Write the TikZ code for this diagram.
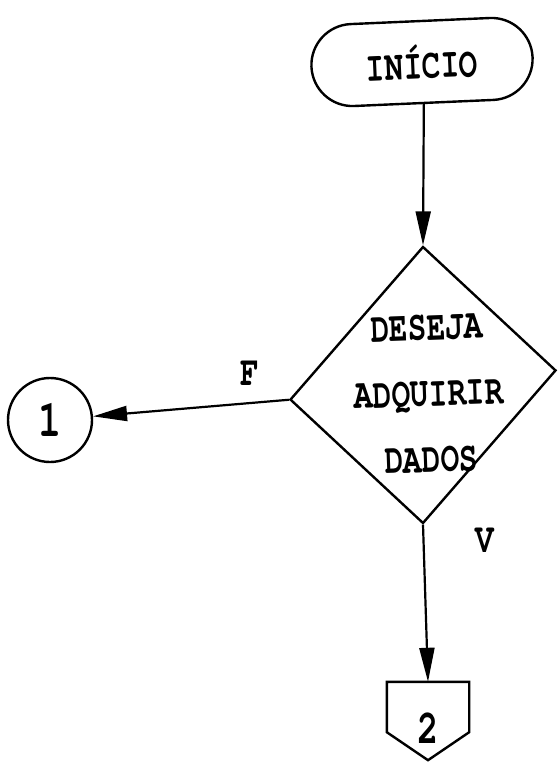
\documentclass[tikz,border=0pt]{standalone}
\usepackage{fontspec}
\newfontfamily\typewriter[FakeStretch=0.74]{texgyrecursor-bold.otf}
\usetikzlibrary{shapes.geometric,shapes.misc,arrows.meta}

\begin{document}
\begin{tikzpicture}[x=1pt,y=-1pt,
  every node/.style={font=\typewriter\fontsize{42}{48}\selectfont},
  outline/.style={draw, line width=2.4pt},
  flowline/.style={line width=2.2pt, -{Triangle[length=34pt,width=15pt]}},
]
\useasboundingbox (0,0) rectangle (558,763);

% start terminal
\node[outline, rounded rectangle, minimum width=228pt, minimum height=82pt,
      rotate=2.5] (term) at (422,62) {INÍCIO};

% decision
\node[outline, diamond, minimum width=266pt, minimum height=277pt,
      inner sep=0pt, yslant=0.11] (dec) at (423,385) {};
\node[align=center, rotate=2, font=\typewriter\fontsize{42}{66}\selectfont]
      (dectxt) at (429,394) {DESEJA\\ADQUIRIR\\DADOS};

% on-page connector
\node[outline, circle, minimum size=84pt, inner sep=0pt,
      font=\typewriter\fontsize{52}{58}\selectfont] (c1) at (50,420) {1};

% off-page connector
\node[minimum width=82pt, minimum height=50pt, inner sep=0pt] (c2) at (428,707) {};
\node[font=\typewriter\fontsize{48}{54}\selectfont] (c2txt) at (428,728) {2};
\draw[line width=2.4pt, line join=miter]
  (c2.south west) -- (c2.north west) -- (c2.north east) -- (c2.south east)
  -- ([yshift=-28pt]c2.south) -- cycle;

% branch labels
\node (lf) at (250,373) {F};
\node (lv) at (485,540) {V};

% flow lines
\draw[flowline] (term.south) -- (dec.north);
\draw[flowline] (dec.west) -- (c1);
\draw[flowline] (dec.south) -- (c2.north);
\end{tikzpicture}
\end{document}
